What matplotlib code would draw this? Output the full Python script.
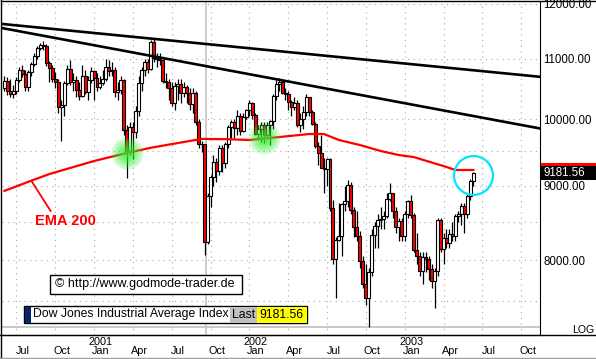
import numpy as np
import pandas as pd
import matplotlib
matplotlib.use("Agg")
import matplotlib.pyplot as plt
from matplotlib.patches import Rectangle
from matplotlib.lines import Line2D
from matplotlib.transforms import IdentityTransform, blended_transform_factory

plt.rcParams['font.family'] = ['Liberation Sans', 'DejaVu Sans']

# === Weekly candles, Dow Jones Industrial Average (weeks ending Friday) ===
first_week = "2000-06-09"

opens = [10500, 10614, 10449, 10404, 10448, 10635, 10812, 10733, 10512, 10767,
         10908, 11046, 11192, 11238, 11220, 10927, 10847, 10651, 10596, 10192,
         10226, 10590, 10817, 10602, 10629, 10470, 10373, 10712, 10434, 10635,
         10787, 10662, 10525, 10587, 10659, 10864, 10781, 10799, 10441, 10466,
         10644, 9823, 9504, 9879, 9791, 10126, 10579, 10811, 10951, 10821,
         11301, 11005, 10990, 10977, 10623, 10604, 10502, 10252, 10539, 10577,
         10416, 10512, 10416, 10240, 10423, 9950, 9606, 9605, 8236, 8848,
         9120, 9344, 9205, 9545, 9324, 9608, 9867, 9960, 9852, 10049,
         9811, 10036, 10137, 10259, 10068, 9772, 9841, 9907, 9744, 9904,
         9968, 10369, 10572, 10608, 10427, 10404, 10271, 10191, 10257, 9910,
         10006, 10115, 10353, 10105, 9925, 9589, 9474, 9253, 9243, 9380,
         8684, 8019, 8264, 8313, 8745, 8778, 9011, 8664, 8428, 8313,
         7986, 7701, 7529, 7850, 8322, 8443, 8517, 8537, 8579, 8805,
         8896, 8645, 8433, 8511, 8304, 8601, 8785, 8587, 8132, 8054,
         7865, 8041, 8018, 7891, 7741, 7859, 8522, 8146, 8278, 8221,
         8338, 8307, 8583, 8604, 8714, 8601, 8850, 9062]

highs = [10700, 10680, 10650, 10560, 10680, 10850, 10900, 10800, 10800, 10950,
         11100, 11220, 11280, 11310, 11260, 10960, 10900, 10780, 10650, 10300,
         10620, 10900, 10980, 10750, 10700, 10600, 10900, 10800, 10700, 10850,
         10800, 10750, 10700, 10800, 10990, 10980, 10950, 10850, 10600, 10700,
         10650, 9900, 9950, 9950, 10200, 10700, 10850, 11000, 11000, 11340,
         11350, 11100, 11100, 10990, 10750, 10650, 10600, 10600, 10650, 10650,
         10600, 10550, 10500, 10500, 10450, 10000, 9660, 9610, 8900, 9150,
         9450, 9400, 9600, 9600, 9650, 9900, 9990, 10000, 10150, 10100,
         10100, 10160, 10300, 10270, 10100, 9900, 9950, 9950, 9950, 9980,
         10400, 10640, 10673, 10660, 10500, 10450, 10300, 10350, 10300, 10100,
         10200, 10400, 10360, 10150, 9950, 9650, 9750, 9400, 9400, 9400,
         8800, 8300, 8750, 8750, 9000, 9077, 9050, 8700, 8650, 8380,
         8050, 7950, 7900, 8400, 8500, 8600, 8700, 8650, 8900, 9043,
         8900, 8700, 8550, 8550, 8650, 8800, 8869, 8620, 8350, 8100,
         8100, 8100, 8050, 7950, 7900, 8550, 8550, 8350, 8400, 8400,
         8500, 8600, 8650, 8750, 8750, 8900, 9100, 9200]

lows = [10450, 10380, 10350, 10330, 10400, 10600, 10680, 10450, 10450, 10700,
        10880, 11000, 11150, 11150, 10880, 10600, 10600, 10500, 10100, 9654,
        10050, 10550, 10550, 10450, 10350, 10300, 10350, 10400, 10300, 10580,
        10300, 10450, 10480, 10550, 10620, 10700, 10700, 10350, 10300, 10400,
        9750, 9106, 9450, 9390, 9700, 10050, 10450, 10700, 10750, 10800,
        10950, 10850, 10900, 10580, 10500, 10300, 10200, 10150, 10300, 10250,
        10350, 10250, 10150, 10100, 9900, 9550, 9490, 8062, 8200, 8700,
        9000, 9050, 9150, 9200, 9250, 9550, 9700, 9700, 9750, 9750,
        9800, 10000, 10050, 10000, 9750, 9700, 9650, 9620, 9700, 9600,
        9850, 10300, 10450, 10400, 10300, 10150, 10050, 10150, 9880, 9800,
        9850, 10050, 10050, 9900, 9550, 9300, 9250, 8900, 9000, 8650,
        7950, 7532, 8250, 8050, 8650, 8700, 8600, 8300, 8250, 7900,
        7650, 7450, 7197, 7800, 8150, 8150, 8400, 8400, 8550, 8780,
        8550, 8350, 8250, 8250, 8250, 8550, 8550, 8100, 7950, 7800,
        7700, 7850, 7750, 7650, 7416, 7800, 8100, 7950, 8150, 8150,
        8250, 8250, 8500, 8450, 8350, 8550, 8800, 9000]

closes = [10614, 10449, 10404, 10448, 10635, 10812, 10733, 10512, 10767, 10908,
          11046, 11192, 11238, 11220, 10927, 10847, 10651, 10596, 10192, 10226,
          10590, 10817, 10602, 10629, 10470, 10373, 10712, 10434, 10635, 10787,
          10662, 10525, 10587, 10659, 10864, 10781, 10799, 10441, 10466, 10644,
          9823, 9504, 9879, 9791, 10126, 10579, 10811, 10951, 10821, 11301,
          11005, 10990, 10977, 10623, 10604, 10502, 10252, 10539, 10577, 10416,
          10512, 10416, 10240, 10423, 9950, 9606, 9605, 8236, 8848, 9120,
          9344, 9205, 9545, 9324, 9608, 9867, 9960, 9852, 10049, 9811,
          10036, 10137, 10259, 10068, 9772, 9841, 9907, 9744, 9904, 9968,
          10369, 10572, 10608, 10427, 10404, 10271, 10191, 10257, 9910, 10006,
          10115, 10353, 10105, 9925, 9589, 9474, 9253, 9243, 9380, 8684,
          8019, 8264, 8313, 8745, 8778, 9011, 8664, 8428, 8313, 7986,
          7701, 7529, 7850, 8322, 8443, 8517, 8537, 8579, 8805, 8896,
          8645, 8433, 8511, 8304, 8601, 8785, 8587, 8132, 8054, 7865,
          8041, 8018, 7891, 7741, 7859, 8522, 8146, 8278, 8221, 8338,
          8307, 8583, 8604, 8714, 8601, 8850, 9062, 9181.56]

last_price = 9181.56
index_name = "Dow Jones Industrial Average Index"
source_text = "\u00a9 http://www.godmode-trader.de"

# EMA 200 (week index, value)
ema_week = [0, 9, 15, 30, 41, 49, 66, 75, 82, 92, 102, 107, 112, 119, 126, 132, 137, 148, 151, 157]
ema_value = [8925, 9070, 9165, 9357, 9476, 9555, 9690, 9685, 9673, 9719,
             9765, 9765, 9673, 9597, 9506, 9446, 9416, 9269, 9225, 9225]

# resistance lines (week index, value) at both ends
trend_upper = [(0, 11619), (179, 10692)]
trend_lower = [(0, 11540), (179, 9854)]
support_level = 7197
marker_week = 67.5

# highlighted spots
touch_week = [41, 87]
touch_value = [9476, 9700]
circle_week = 157
circle_value = 9150

grid_levels = [7500, 8000, 8500, 9000, 9500, 10000, 11000, 12000]
label_levels = [8000, 9000, 10000, 11000, 12000]
month_names = {1: "Jan", 4: "Apr", 7: "Jul", 10: "Oct"}

# === Figure ===
W, H = 596, 359
fig = plt.figure(figsize=(W / 100, H / 100), dpi=100)
ax = fig.add_axes([2 / W, 24 / H, 538 / W, 333 / H])
ax.set_yscale('log')
ax.set_xlim(-0.8, 179.3)
ax.set_ylim(7105, 12034)

for s in ['top', 'left']:
    ax.spines[s].set_visible(False)
ax.spines['right'].set_color('black')
ax.spines['bottom'].set_color('black')

ax.yaxis.tick_right()
ax.set_yticks(label_levels)
ax.set_yticklabels([f"{v:.2f}" for v in label_levels], fontsize=8.3)
ax.yaxis.set_minor_locator(matplotlib.ticker.NullLocator())
ax.tick_params(axis='y', length=0, pad=2.5)
ax.set_xticks([])

# weeks incl. the empty area on the right
dates = pd.date_range(first_week, periods=182, freq='W-FRI')
quarters = [i for i in range(1, len(dates))
            if dates[i].month != dates[i - 1].month and dates[i].month in month_names]

dot = (0, (1, 4))
for lv in grid_levels:
    ax.axhline(lv, color='#a8a8a8', lw=0.8, ls=dot, zorder=0)
for q in quarters:
    ax.axvline(q, color='#a8a8a8', lw=0.8, ls=dot, zorder=0)
ax.axhline(support_level, color='#c4c4c4', lw=1.3, zorder=1)
ax.axvline(marker_week, color='#c8c8c8', lw=1.3, zorder=1)

# x labels
tx = blended_transform_factory(ax.transData, fig.transFigure)
for q in quarters:
    d = dates[q]
    ax.text(q + 2.2, 1 - 351 / H, month_names[d.month], transform=tx,
            ha='center', va='center', fontsize=7.8, clip_on=False)
    if d.month == 1:
        ax.text(q + 2.2, 1 - 342 / H, str(d.year), transform=tx,
                ha='center', va='center', fontsize=7.8, clip_on=False)

# === Candles ===
o = np.array(opens, dtype=float)
c = np.array(closes, dtype=float)
idx = np.arange(len(c))
up = c >= o
ax.vlines(idx, lows, highs, color='black', lw=0.9, zorder=3)
ax.bar(idx, np.maximum(np.abs(c - o), 1), bottom=np.minimum(o, c), width=1.0,
       color=np.where(up, 'white', 'red'), edgecolor='black', linewidth=0.8, zorder=4)

# trend lines + EMA
ax.axline(trend_upper[0], trend_upper[1], color='black', lw=1.9, zorder=5)
ax.axline(trend_lower[0], trend_lower[1], color='black', lw=1.9, zorder=5)
ax.plot(ema_week, ema_value, color='red', lw=1.6, zorder=5)

for d_px in [32, 27, 22, 18, 14, 10, 7]:
    ax.scatter(touch_week, touch_value, s=(d_px * 0.72) ** 2, color='#33ee33',
               alpha=0.2, lw=0, zorder=6)
ax.plot(circle_week, circle_value, marker='o', ms=28, mfc='none', mec='#00e5ff',
        mew=1.6, zorder=7)

ax.annotate("EMA 200", xy=(ema_week[1], ema_value[1]), xytext=(20.6, 8510),
            textcoords='data', ha='center', va='center', fontsize=10.5,
            fontweight='bold', color='red',
            arrowprops=dict(arrowstyle='-', color='red', lw=1.3, shrinkA=0,
                            shrinkB=0, relpos=(0.28, 1.0)))

# === Right side price boxes ===
ident = IdentityTransform()
y_ema = ax.transData.transform((0, ema_value[-1]))[1]
y_last = ax.transData.transform((0, last_price))[1]
fig.add_artist(Rectangle((541, y_ema - 7), 55, 14, transform=ident, fc='red', ec='none'))
fig.add_artist(Rectangle((541, y_last - 7), 55, 14, transform=ident, fc='black', ec='none'))
fig.text(543 / W, y_last / H, f"{last_price:.2f}", color='white', fontsize=8.3,
         ha='left', va='center')


def box(x0, y0, x1, y1, fc, ec='none', lw=1.0):
    fig.add_artist(Rectangle((x0, H - y1), x1 - x0, y1 - y0, transform=ident,
                             fc=fc, ec=ec, lw=lw))


# source box
box(50, 275, 242, 294, 'white', 'black')
fig.text(55 / W, 1 - 284.5 / H, source_text, fontsize=9, ha='left', va='center')

# index box
box(24, 306, 307, 323, 'white', 'black')
box(24.5, 306.5, 31, 322.5, '#0a246a')
box(230, 306.5, 257, 322.5, '#c0c0c0')
box(257, 306.5, 306.5, 322.5, '#ffff00')
fig.text(33 / W, 1 - 314.5 / H, index_name, fontsize=8.8, ha='left', va='center')
fig.text(232 / W, 1 - 314.5 / H, "Last", fontsize=8.8, ha='left', va='center')
fig.text(259 / W, 1 - 314.5 / H, f"{last_price:.2f}", fontsize=8.8, ha='left', va='center')

fig.text(572 / W, 1 - 330 / H, "LOG", fontsize=7.6, ha='left', va='center')

# frame lines
fig.add_artist(Line2D([0, W], [H - 335, H - 335], transform=ident, color='black', lw=1))
fig.add_artist(Line2D([0.5, W], [H - 0.5, H - 0.5], transform=ident, color='black', lw=1))
fig.add_artist(Line2D([0.5, 0.5], [0, H], transform=ident, color='black', lw=1))
fig.add_artist(Line2D([0, W], [1.5, 1.5], transform=ident, color='#a0a0a0', lw=1))

fig.savefig("out.png", dpi=100)
